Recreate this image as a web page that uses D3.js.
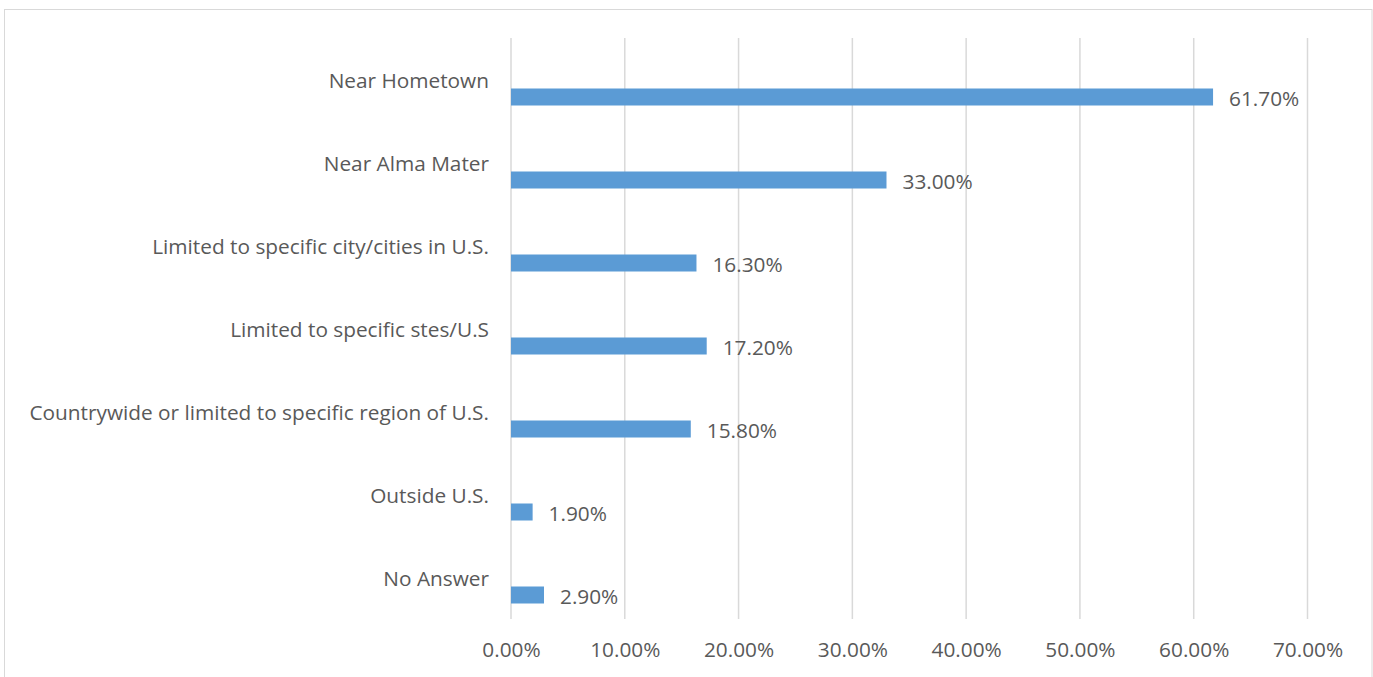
<!DOCTYPE html>
<html>
<head>
<meta charset="utf-8">
<script src="https://cdn.jsdelivr.net/npm/d3@7"></script>
<style>
html,body{margin:0;padding:0;background:#fff;}
svg{display:block;}
text{font-family:"Open Sans",sans-serif;fill:#595959;}
</style>
</head>
<body>
<svg id="chart" width="1373" height="677"></svg>
<script>
const categories = ["Near Hometown","Near Alma Mater","Limited to specific city/cities in U.S.","Limited to specific stes/U.S","Countrywide or limited to specific region of U.S.","Outside U.S.","No Answer"];
const values = [61.7,33.0,16.3,17.2,15.8,1.9,2.9];
const tickValues = [0,10,20,30,40,50,60,70];

const svg = d3.select("#chart");
const W = 1373, H = 677;
const plot = {left:511, right:1307.5, top:38, bottom:619};
const FS = "20.8px";

svg.append("rect").attr("x",4.5).attr("y",9.5).attr("width",1367.5).attr("height",H)
  .attr("fill","#fff").attr("stroke","#d9d9d9").attr("stroke-width",1);

const x = d3.scaleLinear().domain([0,70]).range([plot.left,plot.right]);
const y = d3.scaleBand().domain(categories).range([plot.top,plot.bottom]).paddingInner(0).paddingOuter(0);

// gridlines
svg.append("g").selectAll("line").data(tickValues).join("line")
  .attr("x1",d=>x(d)).attr("x2",d=>x(d))
  .attr("y1",plot.top).attr("y2",plot.bottom)
  .attr("stroke","#d9d9d9").attr("stroke-width",1.5);

// x axis labels
const xAxis = d3.axisBottom(x).tickValues(tickValues).tickSize(0).tickPadding(0)
  .tickFormat(d=>d.toFixed(2)+"%");
const gx = svg.append("g").attr("transform",`translate(0,${plot.bottom})`).call(xAxis);
gx.select(".domain").remove();
gx.selectAll("text").attr("dy",null).attr("y",32).attr("dominant-baseline","middle")
  .style("font-size",FS).style("font-family","'Open Sans',sans-serif").attr("fill","#595959");

// y axis labels
const yAxis = d3.axisLeft(y).tickSize(0).tickPadding(0);
const gy = svg.append("g").attr("transform",`translate(489,2.5)`).call(yAxis);
gy.select(".domain").remove();
gy.selectAll("text").attr("dy",null).attr("x",0).attr("dominant-baseline","middle")
  .style("font-size",FS).style("font-family","'Open Sans',sans-serif").attr("fill","#595959");

const barOff = 9, barH = 17;
const data = categories.map((c,i)=>({c, v:values[i]}));
svg.append("g").selectAll("rect").data(data).join("rect")
  .attr("x",x(0)).attr("y",d=>y(d.c)+y.bandwidth()/2+barOff)
  .attr("width",d=>x(d.v)-x(0)).attr("height",barH)
  .attr("fill","#5b9bd5");

svg.append("g").selectAll("text").data(data).join("text")
  .attr("x",d=>x(d.v)+16).attr("y",d=>y(d.c)+y.bandwidth()/2+barOff+barH/2+3)
  .attr("dominant-baseline","middle")
  .style("font-size",FS)
  .text(d=>d.v.toFixed(2)+"%");
</script>
</body>
</html>
